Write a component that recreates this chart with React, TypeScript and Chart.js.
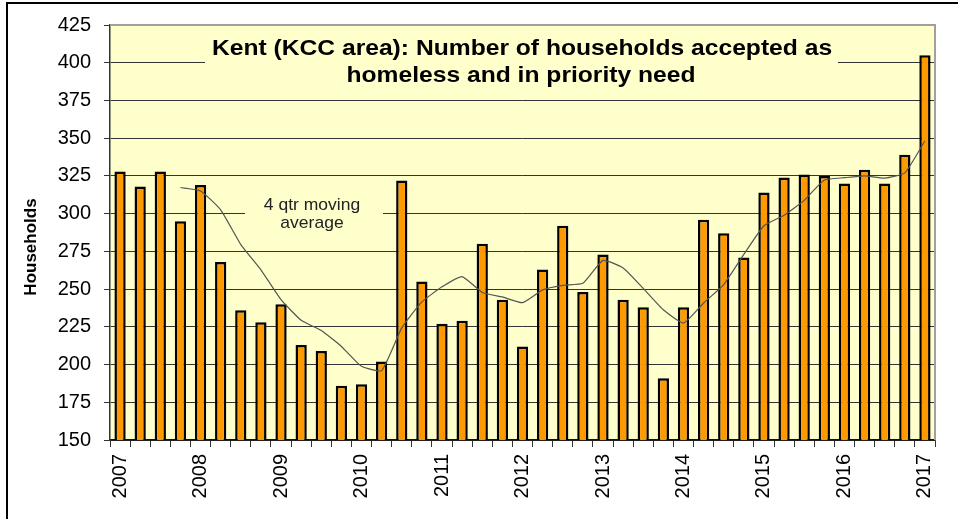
import { useEffect, useRef } from 'react';
import { Chart, registerables } from 'chart.js';

Chart.register(...registerables);

const years = ['2007', '2008', '2009', '2010', '2011', '2012', '2013', '2014', '2015', '2016', '2017'];
const quarters = ['Q1', 'Q2', 'Q3', 'Q4'];

const households = [
  328, 318, 328, 295,
  319, 268, 236, 228,
  240, 213, 209, 186,
  187, 202, 322, 255,
  227, 229, 280, 243,
  212, 263, 292, 248,
  273, 243, 238, 191,
  238, 296, 287, 271,
  314, 324, 326, 325,
  320, 329, 320, 339,
  405,
];

const movingAverage: (number | null)[] = [
  null, null, null, 317.3,
  315.0, 302.5, 279.5, 262.8,
  243.0, 229.3, 222.5, 212.0,
  198.8, 196.0, 224.3, 241.5,
  251.5, 258.3, 247.8, 244.8,
  241.0, 249.5, 252.5, 253.8,
  269.0, 264.0, 250.5, 236.3,
  227.5, 240.8, 253.0, 273.0,
  292.0, 299.0, 308.8, 322.3,
  323.8, 325.0, 323.5, 327.0,
  348.3,
];

const yMin = 150;
const yMax = 425;
const yStep = 25;

const titleLines = ['Kent (KCC area): Number of households accepted as', 'homeless and in priority need'];
const maLabelLines = ['4 qtr moving', 'average'];
const yAxisTitle = 'Households';

const categories = years.flatMap((y) => quarters.map((q) => `${y} ${q}`)).slice(0, households.length);

const FONT = '"Liberation Sans", Arial, sans-serif';

function stretchedText(ctx: any, text: string, x: number, y: number, sx: number) {
  ctx.save();
  ctx.translate(x, y);
  ctx.scale(sx, 1);
  ctx.fillText(text, 0, 0);
  ctx.restore();
}

const decorPlugin = {
  id: 'decor',
  beforeDraw(chart: any) {
    const { ctx, chartArea } = chart;
    ctx.save();
    ctx.fillStyle = '#FFFFCC';
    ctx.fillRect(chartArea.left, chartArea.top, chartArea.right - chartArea.left, chartArea.bottom - chartArea.top);
    ctx.restore();
  },
  beforeDatasetsDraw(chart: any) {
    const { ctx } = chart;
    ctx.save();
    // title box
    ctx.fillStyle = '#FFFFCC';
    ctx.fillRect(205, 33, 633, 58);
    ctx.fillStyle = '#000';
    ctx.font = `bold 22px ${FONT}`;
    ctx.textAlign = 'center';
    ctx.textBaseline = 'middle';
    stretchedText(ctx, titleLines[0], 522, 49, 1.12);
    stretchedText(ctx, titleLines[1], 521, 76, 1.12);
    // moving average label box
    ctx.fillStyle = '#FFFFCC';
    ctx.fillRect(245, 193, 138, 41);
    ctx.fillStyle = '#222';
    ctx.font = `17px ${FONT}`;
    stretchedText(ctx, maLabelLines[0], 312, 205, 1.03);
    stretchedText(ctx, maLabelLines[1], 312, 223, 1.03);
    ctx.restore();
  },
  afterDraw(chart: any) {
    const { ctx, chartArea } = chart;
    ctx.save();
    ctx.strokeStyle = '#a0a0a0';
    ctx.lineWidth = 2;
    ctx.beginPath();
    ctx.moveTo(chartArea.left, chartArea.top);
    ctx.lineTo(chartArea.right, chartArea.top);
    ctx.lineTo(chartArea.right, chartArea.bottom);
    ctx.stroke();
    // y axis title
    ctx.translate(31, 247);
    ctx.rotate(-Math.PI / 2);
    ctx.fillStyle = '#000';
    ctx.font = `bold 17px ${FONT}`;
    ctx.textAlign = 'center';
    ctx.textBaseline = 'middle';
    ctx.fillText(yAxisTitle, 0, 0);
    ctx.restore();
  },
};

export default function App() {
  const ref = useRef<HTMLCanvasElement | null>(null);

  useEffect(() => {
    if (!ref.current) return;
    const chart = new Chart(ref.current, {
      type: 'bar',
      data: {
        labels: categories,
        datasets: [
          {
            type: 'line',
            label: '4 qtr moving average',
            data: movingAverage,
            borderColor: '#555555',
            borderWidth: 1.2,
            pointRadius: 0,
            tension: 0.15,
            fill: false,
            order: 0,
          } as any,
          {
            type: 'bar',
            label: 'Households',
            data: households,
            backgroundColor: '#FF9900',
            borderColor: '#000000',
            borderWidth: 2.5,
            borderSkipped: false,
            categoryPercentage: 1,
            barPercentage: 0.56,
            order: 1,
          } as any,
        ],
      },
      options: {
        animation: false,
        responsive: false,
        maintainAspectRatio: false,
        layout: { padding: { left: 0, right: 23, top: 25, bottom: 0 } },
        plugins: {
          legend: { display: false },
          tooltip: { enabled: false },
          title: { display: false },
        },
        scales: {
          x: {
            type: 'category',
            offset: true,
            grid: {
              offset: true,
              drawOnChartArea: false,
              drawTicks: true,
              tickLength: 7,
              tickColor: '#333',
            },
            border: { color: '#111', width: 1.5 },
            ticks: {
              autoSkip: false,
              minRotation: 90,
              maxRotation: 90,
              padding: 7,
              color: '#000',
              font: { family: FONT, size: 20 },
              callback: (_v: any, i: number) => (i % 4 === 0 ? years[i / 4] : ''),
            },
            afterFit: (scale: any) => {
              scale.height = 79;
            },
          },
          y: {
            min: yMin,
            max: yMax,
            grid: {
              color: '#333',
              lineWidth: 1,
              tickLength: 6,
              tickColor: '#333',
            },
            border: { color: '#333', width: 1.5 },
            ticks: {
              stepSize: yStep,
              padding: 13,
              color: '#000',
              font: { family: FONT, size: 20 },
            },
            afterFit: (scale: any) => {
              scale.width = 110;
            },
          },
        },
      },
      plugins: [decorPlugin],
    });
    return () => chart.destroy();
  }, []);

  return (
    <div style={{ position: 'fixed', left: 0, top: 0, width: 958, height: 519, overflow: 'hidden', background: '#fff' }}>
      <div
        style={{
          position: 'absolute',
          left: 6,
          top: 2,
          width: 2000,
          height: 2000,
          borderTop: '2px solid #000',
          borderLeft: '2px solid #000',
        }}
      />
      <canvas ref={ref} width={958} height={519} style={{ position: 'absolute', left: 0, top: 0, width: 958, height: 519 }} />
    </div>
  );
}
